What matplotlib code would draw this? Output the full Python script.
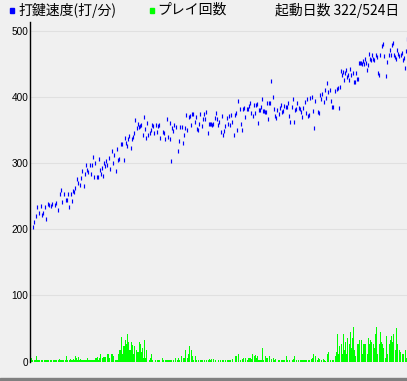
import matplotlib
matplotlib.use('Agg')
import matplotlib.pyplot as plt
from matplotlib.patches import Rectangle

# typing speed points: (position along timeline, strokes per minute)
speed_x = [2,3,5,6,8,10,11,12,14,15,17,18,20,21,24,25,27,29,30,31,33,35,36,37,38,40,41,42,43,44,46,47,49,50,51,53,54,55,56,57,59,60,61,62,63,64,66,67,68,69,70,71,72,73,74,75,76,78,79,81,82,83,85,86,87,88,90,91,93,94,95,96,97,98,100,101,102,103,104,106,107,108,109,
           110,112,113,114,115,116,117,119,120,121,122,123,125,126,127,128,129,132,133,134,136,137,139,139,140,141,142,143,145,147,148,149,151,152,153,154,155,156,158,159,160,161,162,164,165,166,167,168,169,171,172,173,174,175,177,178,179,180,181,182,184,185,186,187,188,190,191,192,193,194,196,197,198,199,200,201,203,204,205,206,207,209,210,211,212,213,214,216,217,218,219,220,222,223,224,225,226,227,228,229,230,231,232,233,234,235,236,237,238,239,
           240,242,243,244,245,246,248,249,250,251,252,253,255,256,257,258,259,261,262,263,264,265,266,268,269,270,271,272,274,275,276,277,278,279,281,282,283,284,287,288,289,290,291,293,294,295,296,297,299,300,301,302,304,306,307,308,309,310,311,312,313,314,315,316,317,318,319,320,322,323,324,325,326,327,328,329,330,331,332,333,334,335,336,337,338,339,340,341,342,343,345,346,347,348,349,351,352,353,355,356,358,359,360,361,362,363,364,365,366,367,368,370,371,372,373,374,375,376]
speed = [203,211,220,233,224,235,221,225,234,215,239,237,235,238,237,240,229,253,259,241,253,245,245,253,234,254,243,258,256,263,276,270,267,278,288,266,284,298,289,286,298,284,297,309,279,301,279,279,307,289,284,292,280,301,295,303,298,308,291,318,300,312,288,321,305,306,329,329,305,338,331,326,337,341,323,337,340,346,366,353,359,355,357,
         358,343,370,352,338,361,343,345,350,358,356,346,358,347,356,358,338,347,345,337,367,339,337,361,303,353,348,358,354,319,334,354,354,331,343,353,373,350,370,372,358,374,374,363,370,352,350,359,374,356,367,374,367,377,346,360,360,360,358,360,368,376,367,358,363,347,372,343,348,356,369,360,371,358,373,363,343,373,376,350,394,382,359,350,382,384,370,382,382,387,391,376,372,388,376,388,390,361,380,380,385,397,379,379,378,377,391,367,391,391,
         425,400,382,371,369,380,374,383,388,378,379,386,385,385,391,371,362,385,397,362,380,382,391,383,382,378,370,383,393,376,397,371,373,399,400,379,353,394,378,376,403,397,405,393,410,398,421,407,410,394,385,385,409,412,413,383,416,440,433,438,426,436,441,431,433,426,443,433,436,423,423,436,428,427,451,451,452,450,455,450,458,451,441,449,465,457,456,464,458,456,463,460,436,433,464,477,480,462,432,453,464,471,464,479,482,464,461,457,471,465,462,464,467,456,459,444,469,488]

# play counts per day
play_x = [1,2,4,5,6,7,8,9,11,12,14,15,16,17,18,20,21,23,24,25,26,28,29,30,31,32,33,35,36,37,39,40,41,42,43,44,45,46,47,48,49,50,51,52,53,54,55,56,57,58,59,60,61,62,63,64,65,66,67,68,69,70,
          72,73,74,75,77,78,79,81,82,83,85,86,87,88,89,90,91,92,93,94,95,96,97,98,99,100,101,102,103,104,106,107,108,109,110,111,112,113,114,115,116,119,120,121,122,125,127,128,129,132,133,135,136,137,138,139,140,141,143,145,147,148,149,151,153,154,155,157,158,159,161,162,163,165,166,168,170,171,172,174,176,178,179,180,181,183,185,188,190,192,193,195,197,198,199,200,202,205,206,208,210,212,213,215,217,218,219,220,221,222,224,225,226,227,228,229,230,231,232,233,235,236,237,239,241,243,244,245,248,249,251,252,253,254,256,257,259,262,263,264,266,268,270,271,272,273,274,275,276,278,279,281,282,283,285,287,288,289,291,293,294,295,297,298,300,302,303,305,306,307,308,309,311,312,313,314,315,316,317,319,320,321,322,323,324,325,327,328,329,331,332,333,334,335,337,338,339,340,341,343,344,345,346,347,349,350,351,352,353,355,356,357,359,360,361,362,363,365,366,367,369,370,372,373,375,376]
plays = [5,3,3,2,9,3,2,2,2,2,2,2,3,2,2,2,2,3,2,2,2,2,4,2,2,2,3,2,8,2,3,4,2,3,4,2,8,6,3,7,3,4,2,3,2,3,2,3,5,2,2,3,2,2,2,3,5,6,7,2,5,11,
         5,7,7,7,12,12,6,11,11,8,3,3,3,11,17,17,37,11,24,24,33,27,41,30,17,18,29,25,12,23,17,15,15,29,27,15,21,5,33,6,18,3,5,12,3,3,3,3,3,5,3,2,2,2,3,3,3,3,2,5,3,6,3,8,6,6,17,5,12,23,17,8,3,9,3,3,3,3,3,3,3,3,4,3,4,4,3,2,3,3,2,2,3,3,3,3,4,8,8,11,3,4,6,6,3,5,6,6,4,12,9,10,6,8,3,3,3,3,20,3,9,6,6,8,4,6,3,4,3,3,3,3,3,3,9,3,2,2,4,8,2,2,2,2,2,2,2,2,2,2,2,4,6,12,8,2,6,4,2,4,2,1,12,15,2,2,2,8,15,42,12,23,26,12,42,17,30,11,36,26,44,21,35,52,17,9,27,26,32,32,12,27,27,27,12,36,27,33,30,27,21,41,52,12,27,44,30,27,21,6,39,12,26,33,39,29,41,17,50,26,18,14,12,12,17,6]

yticks = [0, 100, 200, 300, 400, 500]
legend_labels = ['打鍵速度(打/分)', 'プレイ回数']
days_text = '起動日数 322/524日'

W, H = 407, 381
BG = '#f0f0f0'
CJK = ['Noto Sans CJK JP', 'DejaVu Sans']

fig = plt.figure(figsize=(W / 100, H / 100), dpi=100, facecolor=BG)
ax = fig.add_axes([30 / W, 19.5 / H, 377 / W, 339.5 / H])
ax.set_facecolor(BG)
ax.set_xlim(0, 377)
ax.set_ylim(0, 513.6)

ax.bar([x + 0.5 for x in play_x], plays, width=1.0, color='#00ff00',
       linewidth=0, antialiased=False, zorder=2)
ax.plot([x + 0.5 for x in speed_x], speed, linestyle='none', marker='|',
        ms=2.3, mew=0.85, color='#0000ff', zorder=3)

ax.set_yticks(yticks)
ax.set_yticklabels([str(t) for t in yticks], family='Liberation Sans', fontsize=7.2)
ax.set_xticks([])
ax.tick_params(axis='y', length=0, pad=1)
ax.yaxis.grid(True, color='#e0e0e0', lw=0.8)
ax.set_axisbelow(True)
for s in ['top', 'right', 'bottom']:
    ax.spines[s].set_visible(False)
ax.spines['left'].set_color('black')
ax.spines['left'].set_linewidth(1.0)

# legend row
fig.patches.append(Rectangle((10 / W, 1 - 13 / H), 4 / W, 5 / H, transform=fig.transFigure,
                             color='#0000ff', figure=fig))
fig.patches.append(Rectangle((150 / W, 1 - 13 / H), 4 / W, 5 / H, transform=fig.transFigure,
                             color='#00ff00', figure=fig))
fig.text(18 / W, 1 - 10 / H, legend_labels[0], family=CJK, fontsize=10, va='center', ha='left')
fig.text(157 / W, 1 - 10 / H, legend_labels[1], family=CJK, fontsize=10, va='center', ha='left')
fig.text(399 / W, 1 - 10 / H, days_text, family=CJK, fontsize=10, va='center', ha='right')

# bottom border
fig.patches.append(Rectangle((0, 0), 1, 3 / H, transform=fig.transFigure,
                             color='#808080', figure=fig))

fig.savefig('out.png', dpi=100, facecolor=BG)
